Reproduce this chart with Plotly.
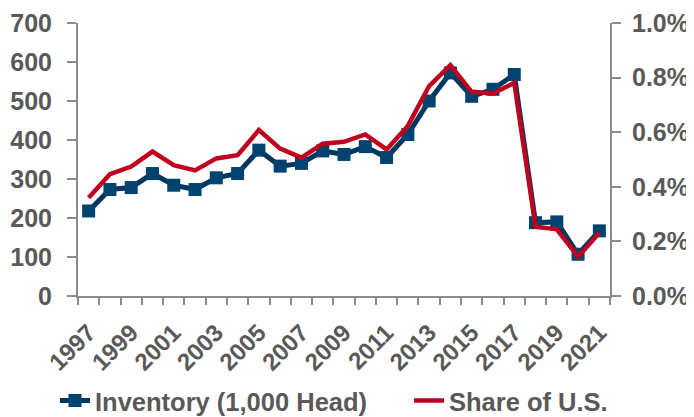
import plotly.graph_objects as go

years = list(range(1997, 2022))
inventory = [218, 273, 278, 314, 284, 273, 303, 314, 374, 333, 340, 372, 363,
             383, 355, 414, 500, 572, 512, 530, 568, 188, 190, 107, 167]
share_pct = [0.360, 0.446, 0.474, 0.529, 0.479, 0.460, 0.504, 0.516, 0.608, 0.540,
             0.507, 0.558, 0.565, 0.592, 0.537, 0.623, 0.769, 0.846, 0.748, 0.742,
             0.781, 0.254, 0.244, 0.144, 0.232]
share = [v / 100 for v in share_pct]
label_years = list(range(1997, 2022, 2))

NAVY_LINE = "#00375F"
NAVY_MARK = "#00436F"
RED = "#C0001F"
GREY_TXT = "#595959"
AXIS = "#8C8C8C"
FONT = "Liberation Sans, Arial, sans-serif"

# The page body has an 8px margin, so the figure is sized to fill the rest.
W, H = 686, 409

fig = go.Figure()
fig.add_trace(go.Scatter(
    x=years, y=inventory, name="Inventory (1,000 Head)", mode="lines+markers",
    line=dict(color=NAVY_LINE, width=5),
    marker=dict(symbol="square", size=13, color=NAVY_MARK, line=dict(width=0)),
    yaxis="y", legend="legend",
))
fig.add_trace(go.Scatter(
    x=years, y=share, name="Share of U.S.", mode="lines",
    line=dict(color=RED, width=4.5),
    yaxis="y2", legend="legend2",
))

legend_common = dict(orientation="h", xref="container", yref="container",
                     xanchor="left", y=1 - 393 / H, yanchor="middle",
                     bgcolor="rgba(0,0,0,0)",
                     font=dict(family=FONT, size=25.5, color=GREY_TXT, weight="bold"),
                     itemwidth=30)

fig.update_layout(
    width=W, height=H,
    margin=dict(l=70, r=84, t=15, b=121, autoexpand=False),
    paper_bgcolor="white", plot_bgcolor="white",
    font=dict(family=FONT, size=25, color=GREY_TXT),
    showlegend=True,
    legend=dict(x=47 / W, **legend_common),
    legend2=dict(x=401 / W, **legend_common),
    xaxis=dict(
        range=[1996.5, 2021.5], tickmode="array", tickvals=label_years,
        ticktext=[str(y) for y in label_years], tickangle=-45,
        ticks="", showgrid=False, zeroline=False, automargin=False,
        showline=True, linecolor=AXIS, linewidth=2,
        ticklabelstandoff=11,
        tickfont=dict(family=FONT, size=24, color=GREY_TXT, weight="bold"),
        minor=dict(tickmode="array", tickvals=[y - 0.5 for y in years] + [2021.5],
                   ticks="outside", ticklen=7, tickcolor=AXIS, tickwidth=2,
                   showgrid=False),
    ),
    yaxis=dict(
        range=[0, 700], dtick=100, showgrid=False, zeroline=False, automargin=False,
        showline=True, linecolor=AXIS, linewidth=2,
        ticks="outside", ticklen=9, tickcolor=AXIS, tickwidth=2,
        ticklabelstandoff=10,
        tickfont=dict(family=FONT, size=25, color=GREY_TXT, weight="bold"),
    ),
    yaxis2=dict(
        range=[0, 0.01], dtick=0.002, tickformat=".1%", overlaying="y", side="right",
        showgrid=False, zeroline=False, automargin=False,
        showline=True, linecolor=AXIS, linewidth=2,
        ticks="outside", ticklen=9, tickcolor=AXIS, tickwidth=2,
        ticklabelstandoff=6,
        tickfont=dict(family=FONT, size=25, color=GREY_TXT, weight="bold"),
    ),
)

fig.write_html("out.html")
